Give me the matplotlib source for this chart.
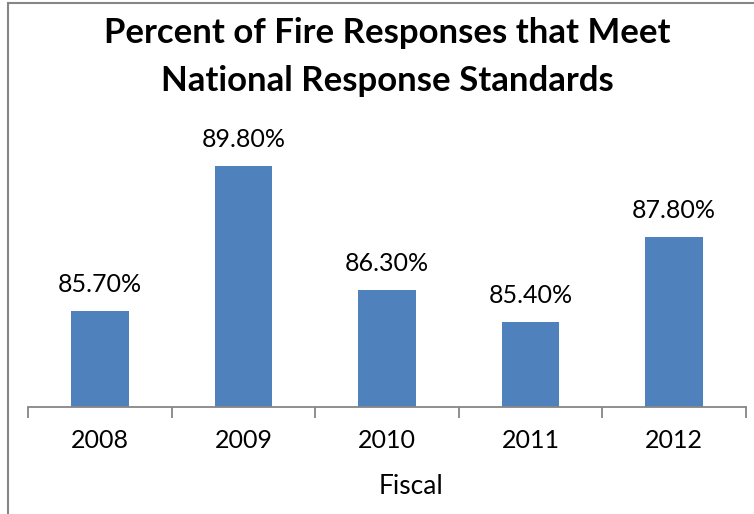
import matplotlib
matplotlib.use("Agg")
import matplotlib.pyplot as plt
from matplotlib.patches import Rectangle

# Datos del grafico
anios = ["2008", "2009", "2010", "2011", "2012"]
porcentajes = [85.7, 89.8, 86.3, 85.4, 87.8]

plt.rcParams['font.family'] = ['Lato', 'DejaVu Sans']

fig = plt.figure(figsize=(7.54, 5.14), dpi=100)
ax = fig.add_axes([28/754, 1-407/514, (746-28)/754, (407-124)/514])

x = range(len(anios))
ax.bar(x, porcentajes, width=0.4, color="#4F81BD", zorder=2)
for i, v in enumerate(porcentajes):
    ax.annotate(f"{v:.2f}%", (i, v), xytext=(0, 15), textcoords="offset pixels",
                ha="center", va="bottom", fontsize=18, color="black")

ax.set_ylim(83, 91)
ax.set_xlim(-0.5, len(anios) - 0.5)
ax.set_yticks([])
for s in ["top", "right", "left"]:
    ax.spines[s].set_visible(False)
ax.spines["bottom"].set_color("#868686")
ax.spines["bottom"].set_linewidth(1.3)

# ticks en los bordes de categoria, etiquetas centradas
ax.set_xticks([i - 0.5 for i in range(len(anios) + 1)])
ax.set_xticklabels([])
ax.tick_params(axis="x", length=8, width=1.3, color="#868686", direction="out")
for i, a in enumerate(anios):
    ax.text(i, -0.118, a, transform=ax.get_xaxis_transform(), ha="center",
            va="center", fontsize=18)

fig.text(411/754, 1-487/514, "Fiscal", ha="center", va="center", fontsize=19)
fig.text(387/754, 1-57/514, "Percent of Fire Responses that Meet\nNational Response Standards",
         ha="center", va="center", fontsize=25, fontweight="bold", linespacing=1.6)

# marco del grafico
fig.patches.append(Rectangle((8/754, -0.2), 2, 1.2 - 3/514, transform=fig.transFigure,
                             fill=False, edgecolor="#868686", linewidth=1.5))

fig.savefig("out.png", dpi=100)
